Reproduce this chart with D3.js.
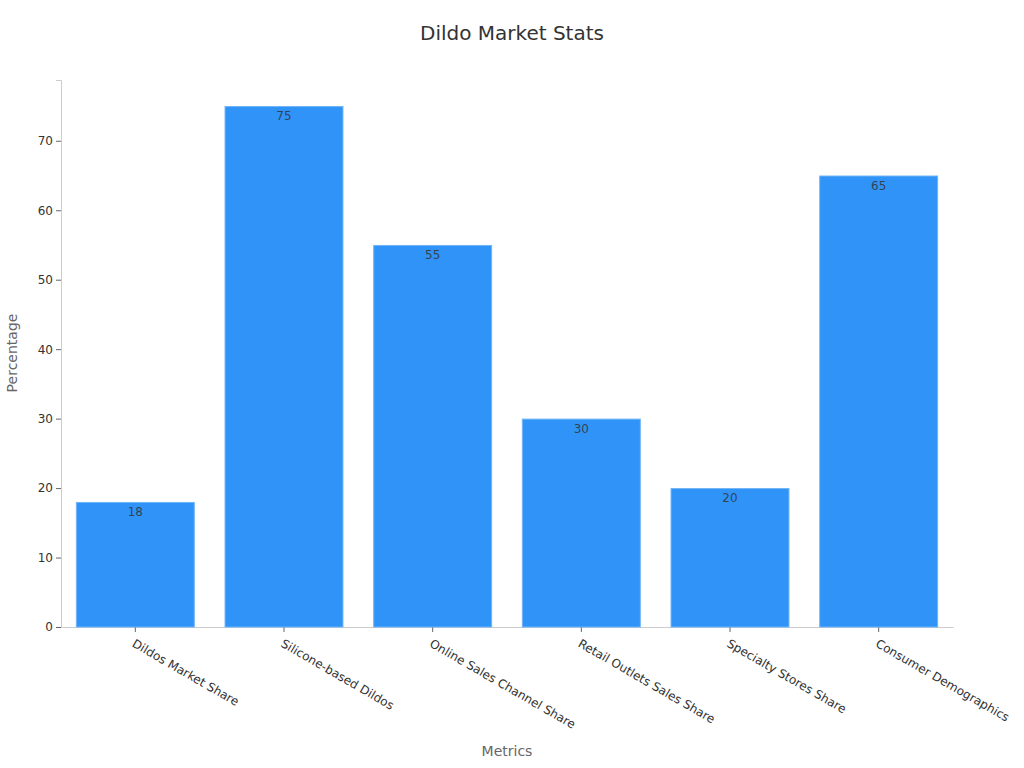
<!DOCTYPE html>
<html><head><meta charset="utf-8">
<script src="https://cdn.jsdelivr.net/npm/d3@7"></script>
<style>body{margin:0;background:#fff;font-family:"DejaVu Sans",sans-serif}</style>
</head><body><svg id="c" width="1024" height="768"></svg>
<script>
const categories = ["Dildos Market Share","Silicone-based Dildos","Online Sales Channel Share","Retail Outlets Sales Share","Specialty Stores Share","Consumer Demographics"];
const values = [18,75,55,30,20,65];
const yTicks = [0,10,20,30,40,50,60,70];

const svg = d3.select("#c");
const m = {l:61, r:953, t:80, b:627};
const x = d3.scaleBand().domain(categories).range([m.l,m.r]).paddingInner(0.2).paddingOuter(0.1);
const y = d3.scaleLinear().domain([0,78.75]).range([m.b,m.t]);

svg.append("text").attr("x",512).attr("y",40).attr("text-anchor","middle")
  .attr("font-size",20).attr("fill","#333").text("Dildo Market Stats");

const ya = svg.append("g").attr("transform",`translate(${m.l},0)`)
  .call(d3.axisLeft(y).tickValues(yTicks).tickSize(5).tickPadding(3));
ya.select(".domain").attr("stroke","#ccc");
ya.selectAll(".tick line").attr("stroke","#666");
ya.selectAll(".tick text").attr("font-size",12).attr("fill","#333").attr("font-family","DejaVu Sans");

const xa = svg.append("g").attr("transform",`translate(0,${m.b})`)
  .call(d3.axisBottom(x).tickSize(5).tickPadding(3).tickSizeOuter(0));
xa.select(".domain").attr("stroke","#ccc");
xa.selectAll(".tick line").attr("stroke","#666");
xa.selectAll(".tick text").attr("font-size",12).attr("fill","#333").attr("font-family","DejaVu Sans")
  .attr("text-anchor","start").attr("dy","0").attr("y",0)
  .attr("transform","translate(-4,19) rotate(30)");

svg.append("g").selectAll("rect").data(values).join("rect")
  .attr("x",(d,i)=>x(categories[i])+0.5).attr("width",x.bandwidth()-1)
  .attr("y",d=>y(d)+0.5).attr("height",d=>m.b-y(d)-0.5)
  .attr("fill","#2f93f8").attr("stroke","#6fb4f8").attr("stroke-width",1);

svg.append("g").selectAll("text").data(values).join("text")
  .attr("x",(d,i)=>x(categories[i])+x.bandwidth()/2).attr("y",d=>y(d)+14)
  .attr("text-anchor","middle").attr("font-size",12).attr("fill","#333").attr("fill-opacity",0.85)
  .text(d=>d);

svg.append("text").attr("transform","translate(17,353) rotate(-90)").attr("text-anchor","middle")
  .attr("font-size",14).attr("fill","#666").text("Percentage");
svg.append("text").attr("x",507).attr("y",756).attr("text-anchor","middle")
  .attr("font-size",14).attr("fill","#666").text("Metrics");
</script></body></html>
